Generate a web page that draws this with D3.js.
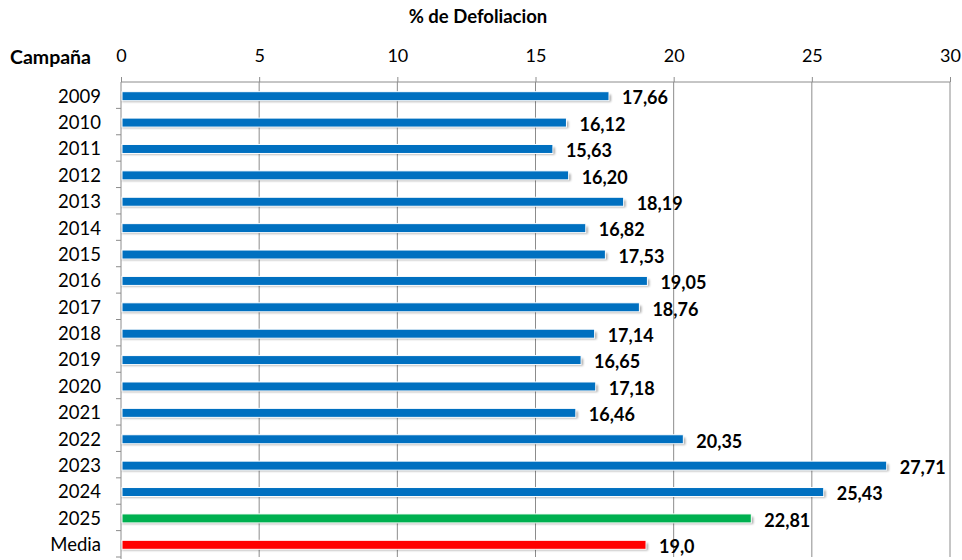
<!DOCTYPE html>
<html>
<head>
<meta charset="utf-8">
<script src="https://cdn.jsdelivr.net/npm/d3@7"></script>
<style>
  body { margin: 0; background: #fff; }
  svg text { font-family: Lato, "Open Sans", sans-serif; }
</style>
</head>
<body>
<div id="chart"></div>
<script>
var categories = ["2009", "2010", "2011", "2012", "2013", "2014", "2015", "2016", "2017",
  "2018", "2019", "2020", "2021", "2022", "2023", "2024", "2025", "Media"];
var values = [17.66, 16.12, 15.63, 16.20, 18.19, 16.82, 17.53, 19.05, 18.76,
  17.14, 16.65, 17.18, 16.46, 20.35, 27.71, 25.43, 22.81, 19.0];
var labels = ["17,66", "16,12", "15,63", "16,20", "18,19", "16,82", "17,53", "19,05", "18,76",
  "17,14", "16,65", "17,18", "16,46", "20,35", "27,71", "25,43", "22,81", "19,0"];
var xTicks = [0, 5, 10, 15, 20, 25, 30];

var width = 962, height = 560;
var plotLeft = 121, plotRight = 950, plotTop = 82, plotBottom = 557;

var colorFor = function (c) {
  if (c === "2025") return "#00B050";
  if (c === "Media") return "#FF0000";
  return "#0070C0";
};

var svg = d3.select("#chart").append("svg")
  .attr("width", width).attr("height", height);

var defs = svg.append("defs");
defs.append("filter").attr("id", "shadow")
  .attr("x", "-5%").attr("y", "-50%").attr("width", "110%").attr("height", "250%")
  .append("feGaussianBlur").attr("stdDeviation", 1.2);

var x = d3.scaleLinear().domain([0, 30]).range([plotLeft, plotRight]);
var y = d3.scaleBand().domain(categories).range([plotTop, plotBottom]);

/* gridlines */
svg.append("g").selectAll("line")
  .data(xTicks.slice(1))
  .enter().append("line")
  .attr("x1", d => x(d)).attr("x2", d => x(d))
  .attr("y1", plotTop).attr("y2", plotBottom)
  .attr("stroke", "#8c8c8c").attr("stroke-width", 1);

/* top axis */
var xAxis = svg.append("g")
  .attr("transform", `translate(0,${plotTop})`)
  .call(d3.axisTop(x).tickValues(xTicks).tickSize(5).tickPadding(15));
xAxis.selectAll("path, line").attr("stroke", "#8c8c8c");
xAxis.select(".domain").attr("d", `M${plotLeft},0H${plotRight}`);
xAxis.selectAll("text")
  .attr("font-size", 18).attr("fill", "#000")
  .style("font-family", "Lato, sans-serif");

/* left axis */
var yAxis = svg.append("g")
  .attr("transform", `translate(${plotLeft},0)`)
  .call(d3.axisLeft(y).tickSize(0).tickPadding(20));
yAxis.select(".domain").attr("stroke", "#8c8c8c").attr("d", `M0,${plotTop}V${plotBottom + 2}`);
yAxis.selectAll("text")
  .attr("font-size", 18.5).attr("fill", "#000")
  .attr("dy", "0.4em")
  .style("font-family", "Lato, sans-serif");

svg.append("g").selectAll("line")
  .data(categories)
  .enter().append("line")
  .attr("x1", plotLeft - 5).attr("x2", plotLeft)
  .attr("y1", d => y(d) + y.bandwidth()).attr("y2", d => y(d) + y.bandwidth())
  .attr("stroke", "#8c8c8c");

/* bars */
var barH = 9;
var bars = svg.append("g");
bars.selectAll(".shadow")
  .data(values)
  .enter().append("rect")
  .attr("class", "shadow")
  .attr("x", plotLeft + 1)
  .attr("y", (d, i) => y(categories[i]) + y.bandwidth() / 2 - barH / 2 + 4)
  .attr("width", d => x(d) - plotLeft + 1)
  .attr("height", barH - 2)
  .attr("fill", "#000").attr("opacity", 0.35)
  .attr("filter", "url(#shadow)");

bars.selectAll(".bar")
  .data(values)
  .enter().append("rect")
  .attr("class", "bar")
  .attr("x", plotLeft + 1)
  .attr("y", (d, i) => y(categories[i]) + y.bandwidth() / 2 - barH / 2 + 1)
  .attr("width", d => x(d) - plotLeft - 1)
  .attr("height", barH)
  .attr("fill", (d, i) => colorFor(categories[i]))
  .attr("stroke", "#fff").attr("stroke-width", 1);

/* value labels */
svg.append("g").selectAll("text")
  .data(values)
  .enter().append("text")
  .attr("x", d => x(d) + 13)
  .attr("y", (d, i) => y(categories[i]) + y.bandwidth() / 2 + 3)
  .attr("dy", "0.35em")
  .attr("font-size", 18).attr("font-weight", "bold")
  .text((d, i) => labels[i]);

/* titles */
svg.append("text")
  .attr("x", 478).attr("y", 23)
  .attr("text-anchor", "middle")
  .attr("font-size", 18.5).attr("font-weight", "bold")
  .text("% de Defoliacion");

svg.append("text")
  .attr("x", 10).attr("y", 64)
  .attr("font-size", 19.5).attr("font-weight", "bold")
  .text("Campaña");
</script>
</body>
</html>
